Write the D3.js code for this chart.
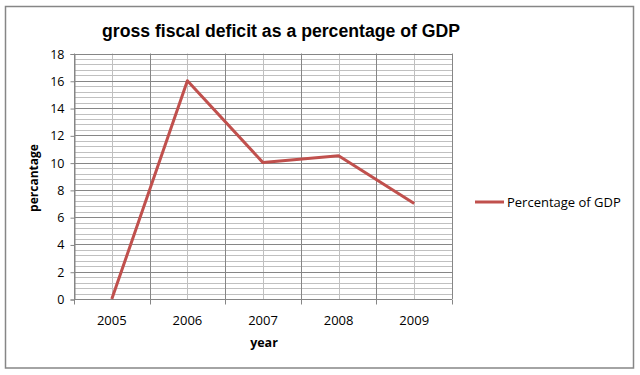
<!DOCTYPE html>
<html>
<head>
<meta charset="utf-8">
<script src="https://cdn.jsdelivr.net/npm/d3@7"></script>
<style>
  body { margin: 0; background: #fff; }
  svg { display: block; }
</style>
</head>
<body>
<svg id="chart" width="640" height="375"></svg>
<script>
// chart data
const years = ["2005", "2006", "2007", "2008", "2009"];
const percentages = [0, 16, 10, 10.5, 7];
const yTicks = [0, 2, 4, 6, 8, 10, 12, 14, 16, 18];
const seriesName = "Percentage of GDP";

const svg = d3.select("#chart");
const plot = { left: 74, right: 452, top: 53.5, bottom: 299 };
const lineColor = "#c0504d";
const labelFont = "'Open Sans', 'DejaVu Sans', sans-serif";

// outer frame
svg.append("rect")
  .attr("x", 5.5).attr("y", 6.5)
  .attr("width", 628).attr("height", 361.5)
  .attr("fill", "#fff")
  .attr("stroke", "#868686")
  .attr("stroke-width", 1.5);

const x = d3.scaleBand()
  .domain(years)
  .range([plot.left, plot.right]);

const y = d3.scaleLinear()
  .domain([0, 18])
  .range([plot.bottom, plot.top]);

// minor horizontal gridlines
const minorTicks = d3.range(0, 18.01, 0.4).filter(v => Math.abs(v / 2 - Math.round(v / 2)) > 0.01);
svg.append("g")
  .selectAll("line")
  .data(minorTicks)
  .join("line")
  .attr("x1", plot.left).attr("x2", plot.right)
  .attr("y1", d => Math.round(y(d)) + 0.5).attr("y2", d => Math.round(y(d)) + 0.5)
  .attr("stroke", "#c0c0c0");

// minor vertical lines at category centres
svg.append("g")
  .selectAll("line")
  .data(years)
  .join("line")
  .attr("x1", d => Math.round(x(d) + x.bandwidth() / 2) + 0.5)
  .attr("x2", d => Math.round(x(d) + x.bandwidth() / 2) + 0.5)
  .attr("y1", plot.top).attr("y2", plot.bottom)
  .attr("stroke", "#c0c0c0");

// major horizontal gridlines
svg.append("g")
  .selectAll("line")
  .data(yTicks)
  .join("line")
  .attr("x1", plot.left).attr("x2", plot.right)
  .attr("y1", d => Math.round(y(d)) + 0.5).attr("y2", d => Math.round(y(d)) + 0.5)
  .attr("stroke", "#868686");

// major vertical lines at category boundaries
const bounds = years.map(d => x(d)).concat([plot.right]);
svg.append("g")
  .selectAll("line")
  .data(bounds)
  .join("line")
  .attr("x1", d => Math.round(d) + 0.5).attr("x2", d => Math.round(d) + 0.5)
  .attr("y1", plot.top).attr("y2", plot.bottom)
  .attr("stroke", "#868686");

// y axis
const yAxis = svg.append("g")
  .attr("transform", `translate(${plot.left + 0.5},0.5)`)
  .call(d3.axisLeft(y).tickValues(yTicks).tickSize(4).tickPadding(6));
yAxis.select(".domain").attr("stroke", "#868686");
yAxis.selectAll(".tick line").attr("stroke", "#868686");
yAxis.selectAll("text")
  .attr("fill", "#000")
  .style("font-family", labelFont)
  .style("font-size", "12.5px");

// x axis: ticks on boundaries, labels at centres
const xg = svg.append("g").attr("transform", `translate(0,${plot.bottom + 0.5})`);
xg.append("line")
  .attr("x1", plot.left).attr("x2", plot.right)
  .attr("stroke", "#868686");
xg.selectAll(".xtick")
  .data(bounds)
  .join("line")
  .attr("class", "xtick")
  .attr("x1", d => Math.round(d) + 0.5).attr("x2", d => Math.round(d) + 0.5)
  .attr("y1", 0).attr("y2", 5)
  .attr("stroke", "#868686");
xg.selectAll(".xlabel")
  .data(years)
  .join("text")
  .attr("class", "xlabel")
  .attr("x", d => x(d) + x.bandwidth() / 2)
  .attr("y", 25)
  .attr("text-anchor", "middle")
  .style("font-family", labelFont)
  .style("font-size", "13px")
  .text(d => d);

// series line
const line = d3.line()
  .x((d, i) => x(years[i]) + x.bandwidth() / 2)
  .y(d => y(d));

svg.append("path")
  .datum(percentages)
  .attr("d", line)
  .attr("fill", "none")
  .attr("stroke", lineColor)
  .attr("stroke-width", 3)
  .attr("stroke-linejoin", "round");

// title
svg.append("text")
  .attr("x", 281)
  .attr("y", 37)
  .attr("text-anchor", "middle")
  .attr("textLength", 358)
  .attr("lengthAdjust", "spacingAndGlyphs")
  .style("font-family", "'Liberation Sans', Arial, sans-serif")
  .style("font-weight", "bold")
  .style("font-size", "18px")
  .text("gross fiscal deficit as a percentage of GDP");

// axis titles
svg.append("text")
  .attr("transform", "translate(38,178) rotate(-90)")
  .attr("text-anchor", "middle")
  .style("font-family", labelFont)
  .style("font-weight", "bold")
  .style("font-size", "12px")
  .text("percantage");

svg.append("text")
  .attr("x", 264)
  .attr("y", 347)
  .attr("text-anchor", "middle")
  .style("font-family", labelFont)
  .style("font-weight", "bold")
  .style("font-size", "12.5px")
  .text("year");

// legend
const legend = svg.append("g").attr("transform", "translate(475,202)");
legend.append("line")
  .attr("x1", 0).attr("x2", 29)
  .attr("stroke", lineColor)
  .attr("stroke-width", 3);
legend.append("text")
  .attr("x", 32)
  .attr("y", 4.5)
  .style("font-family", labelFont)
  .style("font-size", "13px")
  .text(seriesName);
</script>
</body>
</html>
